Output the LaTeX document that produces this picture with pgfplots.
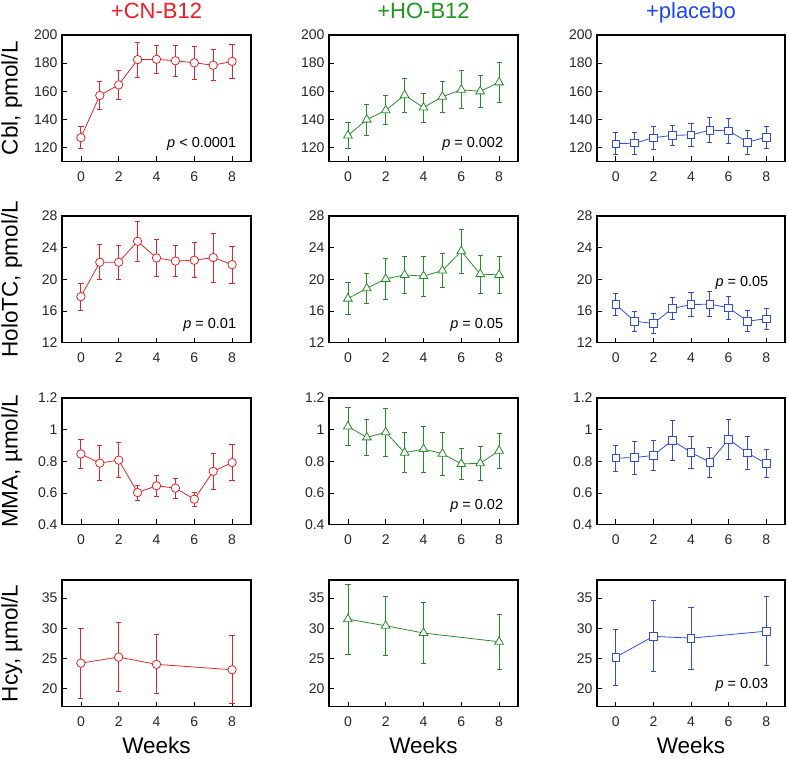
\documentclass[border=0pt]{standalone}
\usepackage{pgfplots}
\pgfplotsset{compat=1.18}
\usepackage{fontspec}
\setmainfont{Liberation Sans}
\definecolor{cnred}{RGB}{226,38,40}
\definecolor{hogreen}{RGB}{38,140,40}
\definecolor{plblue}{RGB}{48,78,212}
\definecolor{tred}{RGB}{236,28,36}
\definecolor{tgreen}{RGB}{30,150,30}
\definecolor{tblue}{RGB}{30,70,232}
\pgfplotsset{
  panel/.style={
    scale only axis, width=189pt, height=126.5pt,
    xmin=-1, xmax=9, xtick={0,2,4,6,8},
    tick align=inside, xtick pos=bottom, ytick pos=left,
    major tick length=5pt,
    tick style={black, line width=0.7pt},
    axis line style={line width=1.1pt},
    /pgf/number format/assume math mode=true,
    ticklabel style={font=\fontsize{14}{14}\selectfont, text=black!85},
    xticklabel style={yshift=-7pt},
    yticklabel style={xshift=-1pt},
    title style={font=\fontsize{22}{22}\selectfont, at={(axis description cs:0.5,1)}, anchor=base, yshift=11pt},
    ylabel style={font=\fontsize{22.5}{22.5}\selectfont, at={(axis description cs:-0.265,0.5)}, rotate=0, anchor=center},
    xlabel style={font=\fontsize{22.5}{22.5}\selectfont, at={(axis description cs:0.5,0)}, anchor=base, yshift=-47pt},
  },
  cn/.style={color=cnred, line width=0.8pt, mark=*, mark size=4.2pt, mark options={fill=white, line width=0.8pt},
    error bars/.cd, y dir=both, y explicit, error bar style={line width=0.8pt}, error mark options={rotate=90, mark size=2.6pt, line width=0.8pt}},
  ho/.style={color=hogreen, line width=0.8pt, mark=triangle*, mark size=5pt, mark options={fill=white, line width=0.8pt},
    error bars/.cd, y dir=both, y explicit, error bar style={line width=0.8pt}, error mark options={rotate=90, mark size=2.6pt, line width=0.8pt}},
  pl/.style={color=plblue, line width=0.8pt, mark=square*, mark size=3.8pt, mark options={fill=white, line width=0.8pt},
    error bars/.cd, y dir=both, y explicit, error bar style={line width=0.8pt}, error mark options={rotate=90, mark size=2.6pt, line width=0.8pt}},
}
\newcommand{\pval}[3]{\node[anchor=base east, font=\fontsize{14.5}{14.5}\selectfont] at (rel axis cs:#1,#2) {#3};}
\begin{document}
\begin{tikzpicture}
\useasboundingbox (0,0) rectangle (787pt,-758pt);
% ---------------- Row 1: Cbl
\begin{axis}[panel, at={(62pt,-35pt)}, anchor=north west, ymin=110, ymax=200, ytick={120,140,160,180,200},
  title={\textcolor{tred}{+CN-B12}}, ylabel={Cbl, pmol/L}]
\addplot[cn] table[x=x, y=y, y error=e] {
x y e
0 127 8
1 157 10
2 164.5 10
3 182.5 12.5
4 182.7 10.2
5 181.7 11.2
6 180.2 12
7 178.5 11
8 181.2 12
};
\pval{0.94}{0.11}{\textit{p} < 0.0001}
\end{axis}
\begin{axis}[panel, at={(329pt,-35pt)}, anchor=north west, ymin=110, ymax=200, ytick={120,140,160,180,200},
  title={\textcolor{tgreen}{+HO-B12}}]
\addplot[ho] table[x=x, y=y, y error=e] {
x y e
0 128.5 9.2
1 139.8 11
2 146.4 10.3
3 157.2 12.1
4 148.4 10.4
5 156.1 11.2
6 161.1 13.5
7 159.9 11.5
8 166.3 14.3
};
\pval{0.94}{0.11}{\textit{p} = 0.002}
\end{axis}
\begin{axis}[panel, at={(597pt,-35pt)}, anchor=north west, width=188pt, ymin=110, ymax=200, ytick={120,140,160,180,200},
  title={\textcolor{tblue}{+placebo}}]
\addplot[pl] table[x=x, y=y, y error=e] {
x y e
0 122.6 7.8
1 123.1 7.8
2 126.9 8
3 128.6 7.3
4 128.9 8.4
5 132.3 9
6 131.8 8.7
7 123.8 8.4
8 127.2 7.9
};
\end{axis}
% ---------------- Row 2: HoloTC
\begin{axis}[panel, at={(62pt,-216pt)}, anchor=north west, ymin=12, ymax=28, ytick={12,16,20,24,28},
  ylabel={HoloTC, pmol/L}]
\addplot[cn] table[x=x, y=y, y error=e] {
x y e
0 17.8 1.7
1 22.15 2.2
2 22.15 2.15
3 24.8 2.5
4 22.7 2.4
5 22.3 1.95
6 22.4 2.2
7 22.75 3.1
8 21.85 2.35
};
\pval{0.94}{0.11}{\textit{p} = 0.01}
\end{axis}
\begin{axis}[panel, at={(329pt,-216pt)}, anchor=north west, ymin=12, ymax=28, ytick={12,16,20,24,28}]
\addplot[ho] table[x=x, y=y, y error=e] {
x y e
0 17.55 2.0
1 18.85 1.9
2 20.05 2.6
3 20.55 2.4
4 20.4 2.55
5 21.1 2.15
6 23.55 2.8
7 20.65 2.4
8 20.55 2.3
};
\pval{0.94}{0.11}{\textit{p} = 0.05}
\end{axis}
\begin{axis}[panel, at={(597pt,-216pt)}, anchor=north west, width=188pt, ymin=12, ymax=28, ytick={12,16,20,24,28}]
\addplot[pl] table[x=x, y=y, y error=e] {
x y e
0 16.8 1.42
1 14.7 1.24
2 14.4 1.3
3 16.3 1.42
4 16.8 1.5
5 16.85 1.58
6 16.4 1.45
7 14.7 1.33
8 15.0 1.3
};
\pval{0.93}{0.44}{\textit{p} = 0.05}
\end{axis}
% ---------------- Row 3: MMA
\begin{axis}[panel, at={(62pt,-398pt)}, anchor=north west, ymin=0.4, ymax=1.2, ytick={0.4,0.6,0.8,1,1.2},
  ylabel={MMA, µmol/L}]
\addplot[cn] table[x=x, y=y, y error=e] {
x y e
0 0.846 0.093
1 0.788 0.112
2 0.807 0.112
3 0.602 0.048
4 0.645 0.066
5 0.630 0.063
6 0.560 0.045
7 0.736 0.113
8 0.792 0.113
};
\end{axis}
\begin{axis}[panel, at={(329pt,-398pt)}, anchor=north west, ymin=0.4, ymax=1.2, ytick={0.4,0.6,0.8,1,1.2}]
\addplot[ho] table[x=x, y=y, y error=e] {
x y e
0 1.020 0.121
1 0.951 0.112
2 0.983 0.152
3 0.854 0.127
4 0.877 0.145
5 0.848 0.136
6 0.783 0.097
7 0.787 0.105
8 0.867 0.11
};
\pval{0.94}{0.12}{\textit{p} = 0.02}
\end{axis}
\begin{axis}[panel, at={(597pt,-398pt)}, anchor=north west, width=188pt, ymin=0.4, ymax=1.2, ytick={0.4,0.6,0.8,1,1.2}]
\addplot[pl] table[x=x, y=y, y error=e] {
x y e
0 0.820 0.083
1 0.823 0.103
2 0.837 0.093
3 0.932 0.125
4 0.856 0.1
5 0.794 0.093
6 0.939 0.125
7 0.853 0.107
8 0.785 0.088
};
\end{axis}
% ---------------- Row 4: Hcy
\begin{axis}[panel, at={(62pt,-580pt)}, anchor=north west, ymin=17, ymax=38, ytick={20,25,30,35},
  ylabel={Hcy, µmol/L}, xlabel={Weeks}]
\addplot[cn] table[x=x, y=y, y error=e] {
x y e
0 24.2 5.8
2 25.2 5.7
4 24.0 4.9
8 23.1 5.65
};
\end{axis}
\begin{axis}[panel, at={(329pt,-580pt)}, anchor=north west, ymin=17, ymax=38, ytick={20,25,30,35},
  xlabel={Weeks}]
\addplot[ho] table[x=x, y=y, y error=e] {
x y e
0 31.5 5.85
2 30.4 4.95
4 29.2 5.1
8 27.75 4.6
};
\end{axis}
\begin{axis}[panel, at={(597pt,-580pt)}, anchor=north west, width=188pt, ymin=17, ymax=38, ytick={20,25,30,35},
  xlabel={Weeks}]
\addplot[pl] table[x=x, y=y, y error=e] {
x y e
0 25.2 4.65
2 28.65 5.9
4 28.35 5.15
8 29.5 5.7
};
\pval{0.93}{0.14}{\textit{p} = 0.03}
\end{axis}
\end{tikzpicture}
\end{document}
